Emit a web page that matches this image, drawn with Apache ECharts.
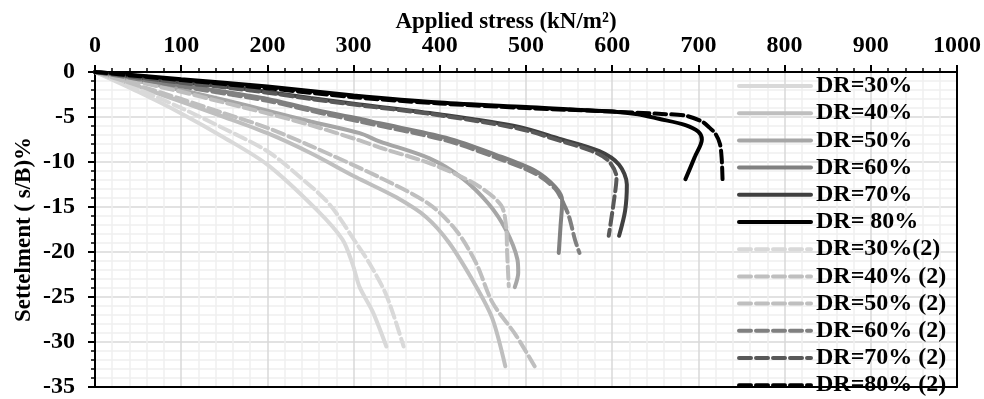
<!DOCTYPE html>
<html>
<head>
<meta charset="utf-8">
<script src="https://cdn.jsdelivr.net/npm/echarts@6/dist/echarts.min.js"></script>
<style>
  html, body { margin: 0; padding: 0; background: #fff; }
  #chart { width: 984px; height: 399px; }
</style>
</head>
<body>
<div id="chart"></div>
<script>
// settlement curves, [stress, settlement]
const dr30 = [[0,0],[50,-2.2],[100,-4.6],[150,-7.3],[200,-10.3],[257,-15.3],[287,-18.6],[299,-21.4],[307,-23.9],[322,-26.6],[338,-30.5]]
const dr40 = [[0,0],[50,-1.6],[100,-3.3],[150,-5.0],[200,-6.8],[250,-9.0],[303,-11.7],[349,-13.9],[384,-16.1],[411,-19.0],[442,-23.8],[461,-27.4],[476,-32.7]]
const dr50 = [[0,0],[50,-1.0],[100,-2.0],[150,-3.1],[200,-4.3],[250,-5.5],[307,-6.8],[330,-7.7],[388,-9.6],[426,-11.8],[457,-14.7],[477,-17.6],[490,-20.8],[491,-22.3],[487,-23.9]]
const dr60 = [[0,0],[50,-0.8],[100,-1.5],[150,-2.2],[200,-3.0],[250,-4.1],[307,-5.2],[330,-5.7],[407,-7.3],[465,-9.2],[511,-11.0],[534,-12.8],[542,-14.3],[540,-17.2],[538,-20.1]]
const dr70 = [[0,0],[50,-0.6],[100,-1.1],[150,-1.6],[200,-2.2],[250,-2.9],[307,-3.6],[399,-4.7],[492,-6.1],[538,-7.4],[585,-8.8],[608,-10.3],[617,-12.5],[615,-15.4],[608,-18.2]]
const dr80 = [[0,0],[100,-0.8],[200,-1.6],[300,-2.6],[400,-3.4],[500,-3.9],[600,-4.4],[630,-4.7],[654,-5.2],[685,-5.9],[700,-6.65],[704,-7.5],[696,-9.4],[685,-11.9]]

const dr30b = [[0,0],[50,-1.9],[100,-4.0],[150,-6.3],[200,-8.8],[237,-11.6],[272,-14.7],[303,-19.0],[318,-21.2],[338,-24.8],[358,-30.5]]
const dr40b = [[0,0],[50,-1.5],[100,-3.0],[150,-4.6],[200,-6.2],[250,-8.2],[330,-11.7],[388,-14.7],[419,-17.6],[442,-21.2],[461,-25.6],[488,-29.2],[510,-32.7]]
const dr50b = [[0,0],[50,-1.1],[100,-2.2],[150,-3.4],[200,-4.6],[250,-5.9],[307,-7.6],[334,-8.5],[390,-10.2],[442,-12.5],[471,-14.8],[477,-17.2],[478,-19.8],[480,-23.8]]
const dr60b = [[0,0],[50,-0.8],[100,-1.6],[150,-2.4],[200,-3.2],[250,-4.3],[307,-5.5],[407,-7.6],[465,-9.5],[511,-11.3],[534,-13.0],[544,-14.7],[550,-16.1],[557,-18.7],[562,-20.1]]
const dr70b = [[0,0],[50,-0.6],[100,-1.2],[150,-1.7],[200,-2.3],[250,-3.0],[307,-3.7],[399,-4.8],[492,-6.3],[538,-7.6],[577,-8.8],[596,-9.9],[605,-11.7],[602,-14.3],[596,-18.2]]
const dr80b = [[0,0],[100,-0.9],[200,-1.8],[300,-2.8],[400,-3.5],[500,-4.0],[600,-4.4],[654,-4.65],[685,-4.85],[704,-5.5],[712,-6.1],[720,-6.9],[725,-8.0],[727,-9.6],[728,-11.9]]

const names = ['DR=30%','DR=40%','DR=50%','DR=60%','DR=70%','DR= 80%',
  'DR=30%(2)','DR=40% (2)','DR=50% (2)','DR=60% (2)','DR=70% (2)','DR=80% (2)']
const curves = [dr30, dr40, dr50, dr60, dr70, dr80, dr30b, dr40b, dr50b, dr60b, dr70b, dr80b]
const colors = ['#d9d9d9','#bfbfbf','#a6a6a6','#808080','#404040','#000000',
  '#d9d9d9','#bfbfbf','#bfbfbf','#808080','#595959','#000000']

const font = "'Times New Roman', 'Liberation Serif', serif"

let myChart = echarts.init(document.getElementById('chart'))

const series = curves.map((d, i) => ({
  name: names[i],
  type: 'line',
  data: d,
  symbol: 'none',
  smooth: 0.3,
  lineStyle: {
    color: colors[i],
    width: 4,
    type: i < 6 ? 'solid' : [12, 5],
    cap: 'round'
  },
  itemStyle: { color: colors[i] }
}))

const option = {
  animation: false,
  grid: { left: 95, right: 25, top: 72, bottom: 6 },
  legend: {
    orient: 'vertical',
    left: 737,
    top: 74,
    padding: 0,
    height: 326,
    itemWidth: 72,
    itemHeight: 14,
    itemGap: 3.2,
    itemStyle: { opacity: 0 },
    lineStyle: { width: 4 },
    textStyle: {
      fontFamily: font, fontWeight: 'bold', fontSize: 24, color: '#000', lineHeight: 24
    },
    data: names
  },
  xAxis: [{
    type: 'value',
    position: 'top',
    min: 0, max: 1000, interval: 100,
    name: 'Applied stress (kN/m²)',
    nameLocation: 'middle',
    nameGap: 38,
    nameMoveOverlap: false,
    nameTextStyle: {
      fontFamily: font, fontWeight: 'bold', fontSize: 23, color: '#000',
      padding: [0, 40, 0, 0]
    },
    axisLine: { show: true, lineStyle: { color: '#000', width: 2 } },
    axisTick: { show: true, length: 7, lineStyle: { color: '#000', width: 2 } },
    minorTick: { show: true, splitNumber: 5, length: 4, lineStyle: { color: '#000', width: 1.5 } },
    axisLabel: {
      fontFamily: font, fontWeight: 'bold', fontSize: 24, color: '#000', margin: 14,
      formatter: v => String(v)
    },
    splitLine: { show: true, lineStyle: { color: '#d9d9d9', width: 1.5 } },
    minorSplitLine: { show: true, lineStyle: { color: '#f0f0f0', width: 1.5 } }
  }, {
    type: 'value',
    position: 'bottom',
    min: 0, max: 1000,
    axisLine: { show: true, onZero: false, lineStyle: { color: '#000', width: 2 } },
    axisTick: { show: false },
    axisLabel: { show: false },
    splitLine: { show: false }
  }],
  yAxis: [{
    type: 'value',
    min: -35, max: 0, interval: 5,
    name: 'Settelment ( s/B)%',
    nameLocation: 'middle',
    nameGap: 59,
    nameMoveOverlap: false,
    nameTextStyle: { fontFamily: font, fontWeight: 'bold', fontSize: 23, color: '#000' },
    axisLine: { show: true, onZero: false, lineStyle: { color: '#000', width: 2 } },
    axisTick: { show: true, length: 7, lineStyle: { color: '#000', width: 2 } },
    minorTick: { show: true, splitNumber: 5, length: 4, lineStyle: { color: '#000', width: 1.5 } },
    axisLabel: { fontFamily: font, fontWeight: 'bold', fontSize: 24, color: '#000', margin: 20 },
    splitLine: { show: true, lineStyle: { color: '#d9d9d9', width: 1.5 } },
    minorSplitLine: { show: true, lineStyle: { color: '#f0f0f0', width: 1.5 } }
  }, {
    type: 'value',
    position: 'right',
    min: -35, max: 0,
    axisLine: { show: true, onZero: false, lineStyle: { color: '#000', width: 2 } },
    axisTick: { show: false },
    axisLabel: { show: false },
    splitLine: { show: false }
  }],
  series: series
}
myChart.setOption(option)
</script>
</body>
</html>
